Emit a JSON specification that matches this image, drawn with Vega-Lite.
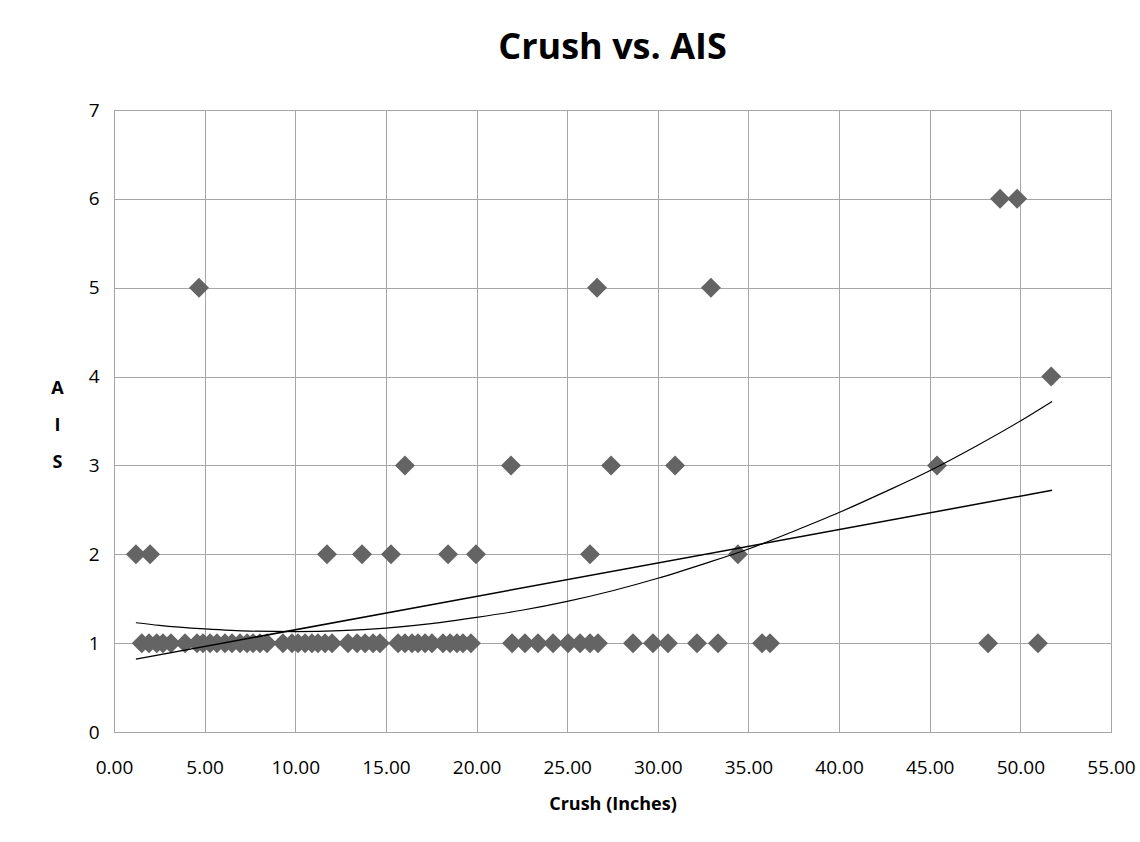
{
  "$schema": "https://vega.github.io/schema/vega-lite/v6.json",
  "autosize": {"type": "none"},
  "padding": {"left": 114, "top": 110, "right": 29, "bottom": 110},
  "width": 997,
  "height": 622,
  "background": "white",
  "title": {
    "text": "Crush vs. AIS",
    "font": "Open Sans",
    "fontSize": 36,
    "fontWeight": "bold",
    "color": "#000000",
    "anchor": "middle",
    "offset": 34
  },
  "config": {
    "view": {"stroke": "#8c8c8c", "strokeWidth": 1},
    "axis": {
      "grid": true,
      "gridColor": "#a6a6a6",
      "gridWidth": 1,
      "domain": false,
      "ticks": false,
      "labelFont": "Open Sans",
      "labelFontSize": 19,
      "labelColor": "#000000",
      "labelFlush": false,
      "titleFont": "Open Sans",
      "titleFontSize": 18,
      "titleFontWeight": "bold",
      "titleColor": "#000000"
    }
  },
  "datasets": {
    "points": [
      {"Crush": 1.53, "AIS": 1}, {"Crush": 1.93, "AIS": 1}, {"Crush": 2.36, "AIS": 1}, {"Crush": 2.70, "AIS": 1},
      {"Crush": 3.14, "AIS": 1}, {"Crush": 3.92, "AIS": 1}, {"Crush": 4.58, "AIS": 1}, {"Crush": 4.91, "AIS": 1},
      {"Crush": 5.30, "AIS": 1}, {"Crush": 5.68, "AIS": 1}, {"Crush": 6.12, "AIS": 1}, {"Crush": 6.51, "AIS": 1},
      {"Crush": 6.95, "AIS": 1}, {"Crush": 7.34, "AIS": 1}, {"Crush": 7.67, "AIS": 1}, {"Crush": 8.05, "AIS": 1},
      {"Crush": 8.44, "AIS": 1}, {"Crush": 9.32, "AIS": 1}, {"Crush": 9.82, "AIS": 1}, {"Crush": 10.15, "AIS": 1},
      {"Crush": 10.54, "AIS": 1}, {"Crush": 10.92, "AIS": 1}, {"Crush": 11.25, "AIS": 1}, {"Crush": 11.64, "AIS": 1},
      {"Crush": 12.03, "AIS": 1}, {"Crush": 12.91, "AIS": 1}, {"Crush": 13.41, "AIS": 1}, {"Crush": 13.85, "AIS": 1},
      {"Crush": 14.29, "AIS": 1}, {"Crush": 14.67, "AIS": 1}, {"Crush": 15.67, "AIS": 1}, {"Crush": 16.05, "AIS": 1},
      {"Crush": 16.44, "AIS": 1}, {"Crush": 16.77, "AIS": 1}, {"Crush": 17.16, "AIS": 1}, {"Crush": 17.54, "AIS": 1},
      {"Crush": 18.15, "AIS": 1}, {"Crush": 18.54, "AIS": 1}, {"Crush": 18.92, "AIS": 1}, {"Crush": 19.25, "AIS": 1},
      {"Crush": 19.69, "AIS": 1}, {"Crush": 21.96, "AIS": 1}, {"Crush": 22.67, "AIS": 1}, {"Crush": 23.39, "AIS": 1},
      {"Crush": 24.22, "AIS": 1}, {"Crush": 25.05, "AIS": 1}, {"Crush": 25.71, "AIS": 1}, {"Crush": 26.26, "AIS": 1},
      {"Crush": 26.70, "AIS": 1}, {"Crush": 28.63, "AIS": 1}, {"Crush": 29.73, "AIS": 1}, {"Crush": 30.56, "AIS": 1},
      {"Crush": 32.16, "AIS": 1}, {"Crush": 33.32, "AIS": 1}, {"Crush": 35.75, "AIS": 1}, {"Crush": 36.19, "AIS": 1},
      {"Crush": 48.22, "AIS": 1}, {"Crush": 50.97, "AIS": 1},
      {"Crush": 1.21, "AIS": 2}, {"Crush": 1.99, "AIS": 2}, {"Crush": 11.75, "AIS": 2}, {"Crush": 13.68, "AIS": 2},
      {"Crush": 15.28, "AIS": 2}, {"Crush": 18.43, "AIS": 2}, {"Crush": 19.97, "AIS": 2}, {"Crush": 26.26, "AIS": 2},
      {"Crush": 34.42, "AIS": 2},
      {"Crush": 16.05, "AIS": 3}, {"Crush": 21.90, "AIS": 3}, {"Crush": 27.42, "AIS": 3}, {"Crush": 30.95, "AIS": 3},
      {"Crush": 45.40, "AIS": 3},
      {"Crush": 51.70, "AIS": 4},
      {"Crush": 4.69, "AIS": 5}, {"Crush": 26.65, "AIS": 5}, {"Crush": 32.93, "AIS": 5},
      {"Crush": 48.88, "AIS": 6}, {"Crush": 49.82, "AIS": 6}
    ],
    "linear": [
      {"Crush": 1.21, "AIS": 0.82},
      {"Crush": 51.75, "AIS": 2.72}
    ],
    "poly": [
      {"Crush": 1.21, "AIS": 1.23}, {"Crush": 2.5, "AIS": 1.20}, {"Crush": 5, "AIS": 1.16},
      {"Crush": 7.5, "AIS": 1.135}, {"Crush": 10, "AIS": 1.13}, {"Crush": 12.5, "AIS": 1.14},
      {"Crush": 15, "AIS": 1.17}, {"Crush": 17.5, "AIS": 1.22}, {"Crush": 20, "AIS": 1.29},
      {"Crush": 22.5, "AIS": 1.37}, {"Crush": 25, "AIS": 1.47}, {"Crush": 27.5, "AIS": 1.59},
      {"Crush": 30, "AIS": 1.73}, {"Crush": 32.5, "AIS": 1.89}, {"Crush": 35, "AIS": 2.06},
      {"Crush": 37.5, "AIS": 2.26}, {"Crush": 40, "AIS": 2.47}, {"Crush": 42.5, "AIS": 2.70},
      {"Crush": 45, "AIS": 2.94}, {"Crush": 47.5, "AIS": 3.21}, {"Crush": 50, "AIS": 3.50},
      {"Crush": 51.75, "AIS": 3.72}
    ]
  },
  "encoding": {
    "x": {
      "field": "Crush", "type": "quantitative",
      "scale": {"domain": [0, 55], "nice": false, "zero": false},
      "axis": {"title": "Crush (Inches)", "values": [0,5,10,15,20,25,30,35,40,45,50,55], "format": ".2f", "labelPadding": 26, "titlePadding": 18}
    },
    "y": {
      "field": "AIS", "type": "quantitative",
      "scale": {"domain": [0, 7], "nice": false},
      "axis": {"title": ["A", "I", "S"], "values": [0,1,2,3,4,5,6,7], "labelPadding": 15, "titleAngle": 0, "titleAlign": "center", "titleBaseline": "top", "titleX": -57, "titleY": 269, "titleLineHeight": 37}
    }
  },
  "layer": [
    {
      "data": {"name": "points"},
      "mark": {"type": "point", "shape": "diamond", "filled": true, "size": 400, "color": "#646464", "opacity": 1}
    },
    {
      "data": {"name": "linear"},
      "mark": {"type": "line", "color": "#000000", "strokeWidth": 1.5}
    },
    {
      "data": {"name": "poly"},
      "mark": {"type": "line", "color": "#000000", "strokeWidth": 1.2, "interpolate": "monotone"}
    }
  ]
}
